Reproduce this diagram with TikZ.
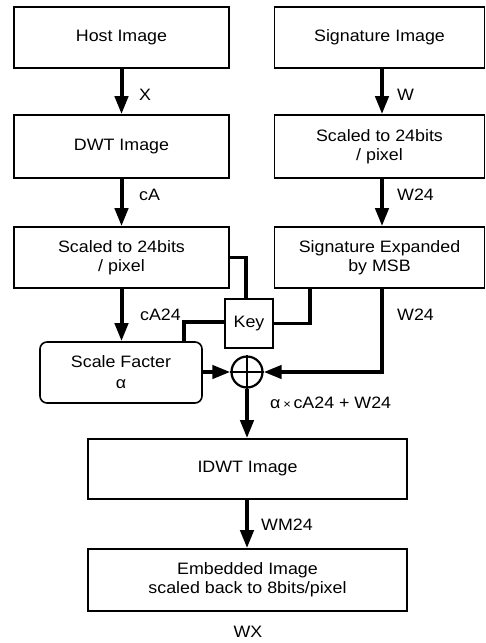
\documentclass[tikz,border=0pt]{standalone}
\usepackage{fontspec}
\setmainfont{Liberation Sans}[FakeStretch=1.08]
\usetikzlibrary{arrows.meta,calc}
\begin{document}
\begin{tikzpicture}[x=1pt,y=-1pt,
  every node/.style={font=\fontsize{16.5}{19}\selectfont, inner sep=0pt},
  blk/.style={draw, line width=1.6pt, align=center},
  lbl/.style={anchor=west},
  arr/.style={line width=4pt, -{Triangle[length=18pt,width=13pt]}},
  wire/.style={line width=3.6pt}]
\useasboundingbox (0,0) rectangle (486,643);
% boxes
\node[blk, minimum width=215, minimum height=61] (Host) at (121.5,37.5) {Host Image};
\node[blk, minimum width=210, minimum height=61] (Sig) at (379.5,37.5) {Signature Image};
\node[blk, minimum width=215, minimum height=63] (DWT) at (121.5,146.5) {DWT Image};
\node[blk, minimum width=210, minimum height=63] (SigS) at (379.5,146.5) {Scaled to 24bits\\/ pixel};
\node[blk, minimum width=215, minimum height=61] (Sc) at (121.5,257.5) {Scaled to 24bits\\/ pixel};
\node[blk, minimum width=210, minimum height=61] (SigE) at (379.5,257.5) {Signature Expanded\\by MSB};
\node[blk, line width=2.2pt, minimum width=48, minimum height=49] (Key) at (249,323.5) {Key};
\node[blk, rounded corners=7pt, minimum width=162, minimum height=61] (SF) at (121,372.5) {Scale Facter\\[2pt]α};
\node[draw, circle, line width=2.2pt, minimum size=31] (P) at (247,372) {};
\draw[line width=2.2pt] (P.north) -- (P.south) (P.west) -- (P.east);
\node[blk, minimum width=319, minimum height=60] (ID) at (247.5,469) {IDWT Image};
\node[blk, minimum width=319, minimum height=62] (Emb) at (247.5,580) {Embedded Image\\scaled back to 8bits/pixel};
\node (WX) at (248,632) {WX};
% arrows
\draw[arr] (Host.south) -- (DWT.north);
\draw[arr] ([xshift=2.5pt]Sig.south) -- ([xshift=2.5pt]SigS.north);
\draw[arr] (DWT.south) -- (Sc.north);
\draw[arr] ([xshift=2.5pt]SigS.south) -- ([xshift=2.5pt]SigE.north);
\draw[arr] (Sc.south) -- (SF.north -| Sc.south);
\draw[wire] (Sc.east) -| ([xshift=-3pt]Key.north);
\draw[wire] (Key.east) -| ([xshift=-69.5pt]SigE.south);
\draw[wire] ([yshift=1.5pt]Key.west) -| ([xshift=63pt]SF.north);
\draw[arr] ([xshift=2.5pt]SigE.south) |- (P.east);
\draw[arr] (SF.east |- P.west) -- (P.west);
\draw[arr] (P.south) -- (ID.north -| P.south);
\draw[arr] (ID.south -| P.south) -- (Emb.north -| P.south);
% labels
\node[lbl] (lX) at (139,95) {X};
\node[lbl] (lW) at (397,95) {W};
\node[lbl] (lcA) at (139,195) {cA};
\node[lbl] (lW24a) at (397,195) {W24};
\node[lbl] (lcA24) at (140,315) {cA24};
\node[lbl] (lW24b) at (397,315) {W24};
\node[lbl] (lsum) at (270,403) {α\,{\fontsize{12}{14}\selectfont×}\,cA24 + W24};
\node[lbl] (lWM) at (261,525) {WM24};
\end{tikzpicture}
\end{document}
